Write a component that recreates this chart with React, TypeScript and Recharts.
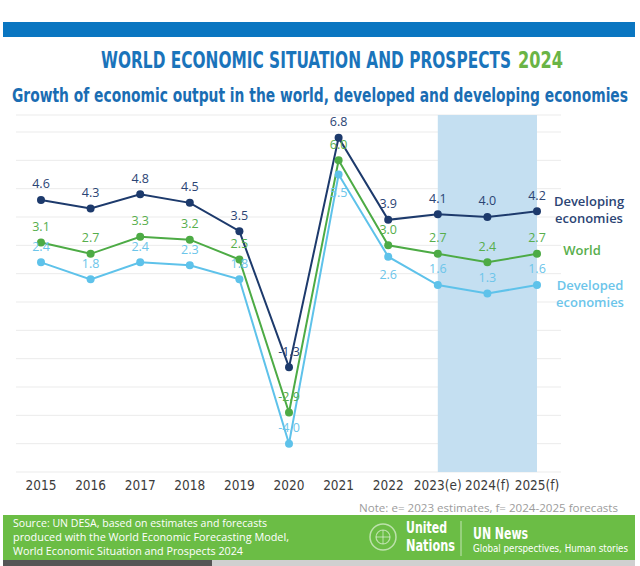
import React from 'react';
import {
  LineChart,
  Line,
  XAxis,
  YAxis,
  CartesianGrid,
  ReferenceArea,
  LabelList,
} from 'recharts';

const years = ['2015', '2016', '2017', '2018', '2019', '2020', '2021', '2022', '2023(e)', '2024(f)', '2025(f)'];
const developing = [4.6, 4.3, 4.8, 4.5, 3.5, -1.3, 6.8, 3.9, 4.1, 4.0, 4.2];
const world = [3.1, 2.7, 3.3, 3.2, 2.5, -2.9, 6.0, 3.0, 2.7, 2.4, 2.7];
const developed = [2.4, 1.8, 2.4, 2.3, 1.8, -4.0, 5.5, 2.6, 1.6, 1.3, 1.6];
const yTicks = [-5, -4, -3, -2, -1, 0, 1, 2, 3, 4, 5, 6, 7];

const data = years.map((year, i) => ({
  year,
  developing: developing[i],
  world: world[i],
  developed: developed[i],
}));

const NAVY = '#1d3a6c';
const GREEN = '#4dab45';
const LIGHT = '#5ec2ea';
const NARROW = '"Liberation Sans Narrow", "DejaVu Sans Condensed", "Roboto", sans-serif';
const SANS = '"Open Sans", "Noto Sans", sans-serif';

// label above each point (or below for the indexes in `below`), plus series name after last point
const makeLabel =
  (color: string, below: number[], name: string[], nameDx: number, nameDy: number) =>
  (props: any) => {
    const x = props.x ?? props.viewBox?.x;
    const y = props.y ?? props.viewBox?.y;
    const { index, value } = props;
    if (x == null || y == null) return null;
    const ly = below.includes(index) ? y + 18 : y - 16;
    return (
      <g>
        <text x={x} y={ly} dy="0.35em" textAnchor="middle" fill={color} fontSize={12.5} fontFamily={SANS}>
          {Number(value).toFixed(1)}
        </text>
        {index === years.length - 1 &&
          name.map((line, k) => (
            <text
              key={k}
              x={x + nameDx}
              y={y + nameDy + k * 17}
              dy="0.35em"
              textAnchor="middle"
              fill={color}
              fontSize={13}
              fontWeight={600}
              fontFamily={SANS}
            >
              {line}
            </text>
          ))}
      </g>
    );
  };

export default function App() {
  return (
    <div style={{ position: 'absolute', left: 0, top: 0, width: 640, height: 566, background: '#fff' }}>
      <svg width={640} height={566} style={{ position: 'absolute', left: 0, top: 0 }}>
        <rect x={3} y={22} width={632} height={15} fill="#0a76c1" />
        <g transform="translate(101 68) scale(1 1.35)">
          <text x={0} y={0} fontSize={17} fontWeight={700} fontFamily={NARROW} fill="#1a74bb" textLength={410} lengthAdjust="spacingAndGlyphs">
            WORLD ECONOMIC SITUATION AND PROSPECTS
          </text>
        </g>
        <g transform="translate(518 68) scale(1 1.35)">
          <text x={0} y={0} fontSize={17} fontWeight={700} fontFamily={NARROW} fill="#6ab446" textLength={45} lengthAdjust="spacingAndGlyphs">
            2024
          </text>
        </g>
        <g transform="translate(12 102) scale(1 1.22)">
          <text x={0} y={0} fontSize={15.2} fontWeight={700} fontFamily={NARROW} fill="#1a6db3" textLength={616} lengthAdjust="spacingAndGlyphs">
            Growth of economic output in the world, developed and developing economies
          </text>
        </g>
        <text
          x={618}
          y={512}
          textAnchor="end"
          fontSize={10.5}
          fontFamily={SANS}
          fill="#9c9c9c"
          textLength={259}
          lengthAdjust="spacingAndGlyphs"
        >
          Note: e= 2023 estimates, f= 2024-2025 forecasts
        </text>
        <rect x={3} y={515} width={632} height={45} fill="#6bbd45" />
        <rect x={3} y={560} width={209} height={6} fill="#555" />
        <rect x={212} y={560} width={423} height={6} fill="#d0d0d0" />
        <g fill="#fff" fontFamily={SANS} fontSize={10}>
          <text x={13} y={527} textLength={254} lengthAdjust="spacingAndGlyphs">
            Source: UN DESA, based on estimates and forecasts
          </text>
          <text x={13} y={541} textLength={276} lengthAdjust="spacingAndGlyphs">
            produced with the World Economic Forecasting Model,
          </text>
          <text x={13} y={555} textLength={230} lengthAdjust="spacingAndGlyphs">
            World Economic Situation and Prospects 2024
          </text>
        </g>
        <g stroke="#fff" strokeOpacity={0.55} fill="none">
          <circle cx={383} cy={537} r={13} strokeWidth={1.5} />
          <circle cx={383} cy={537} r={7} strokeWidth={1.2} />
          <line x1={376} y1={537} x2={390} y2={537} strokeWidth={1} />
          <line x1={383} y1={530} x2={383} y2={544} strokeWidth={1} />
        </g>
        <g fill="#fff" fontFamily={NARROW} fontWeight={700} fontSize={15}>
          <text x={406} y={533} textLength={41} lengthAdjust="spacingAndGlyphs">United</text>
          <text x={406} y={551} textLength={49} lengthAdjust="spacingAndGlyphs">Nations</text>
          <text x={473} y={539} fontSize={16} textLength={55} lengthAdjust="spacingAndGlyphs">UN News</text>
        </g>
        <line x1={461} y1={521} x2={461} y2={556} stroke="#fff" strokeOpacity={0.6} />
        <text x={473} y={552} fill="#fff" fontFamily={NARROW} fontSize={10.5} textLength={155} lengthAdjust="spacingAndGlyphs">
          Global perspectives, Human stories
        </text>
      </svg>

      <div style={{ position: 'absolute', left: 0, top: 0 }}>
        <LineChart width={640} height={510} data={data} margin={{ top: 115, right: 79, left: 16, bottom: 8 }}>
          <CartesianGrid vertical={false} stroke="#ebebeb" />
          <ReferenceArea x1="2023(e)" x2="2025(f)" y1={-5} y2={7.6} fill="#c4dff1" fillOpacity={1} stroke="none" />
          <XAxis
            dataKey="year"
            axisLine={false}
            tickLine={false}
            height={30}
            interval={0}
            padding={{ left: 25, right: 24 }}
            tick={{ fill: '#3b3b3b', fontSize: 13.5, fontFamily: NARROW }}
          />
          <YAxis hide domain={[-5, 7.6]} ticks={yTicks} />
          <Line dataKey="developing" stroke={NAVY} strokeWidth={2} dot={{ r: 4, fill: NAVY, stroke: NAVY, strokeWidth: 0 }} isAnimationActive={false}>
            <LabelList dataKey="developing" content={makeLabel('#2b4474', [], ['Developing', 'economies'], 52, -10)} />
          </Line>
          <Line dataKey="world" stroke={GREEN} strokeWidth={2} dot={{ r: 4, fill: GREEN, stroke: GREEN, strokeWidth: 0 }} isAnimationActive={false}>
            <LabelList dataKey="world" content={makeLabel('#57ae4c', [], ['World'], 45, -3)} />
          </Line>
          <Line dataKey="developed" stroke={LIGHT} strokeWidth={2} dot={{ r: 4, fill: LIGHT, stroke: LIGHT, strokeWidth: 0 }} isAnimationActive={false}>
            <LabelList dataKey="developed" content={makeLabel('#6cc5ea', [6, 7], ['Developed', 'economies'], 53, 0)} />
          </Line>
        </LineChart>
      </div>
    </div>
  );
}
